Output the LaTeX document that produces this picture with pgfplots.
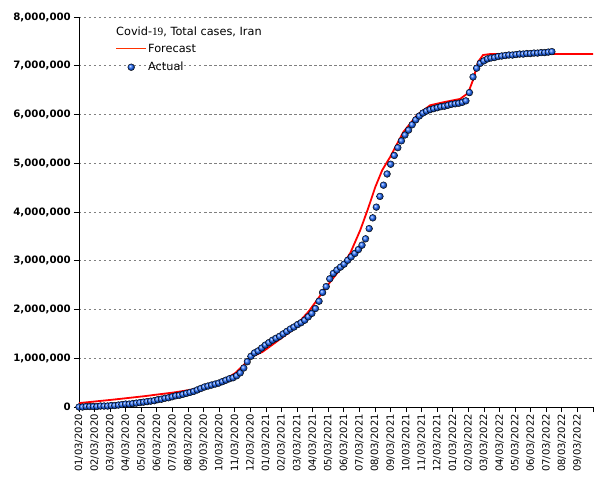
\documentclass[border=0pt]{standalone}
\usepackage{fontspec}
\setmainfont{DejaVu Sans}
\newfontfamily\serifnum{Liberation Serif}
\usepackage{pgfplots}
\pgfplotsset{compat=1.18}
\usepackage{pgfplotstable}

% x = months from 01/03/2020, y = millions of cases
\pgfplotstableread{
m cases
0 0.00
0.23 0.00
0.46 0.01
0.69 0.01
0.92 0.01
1.15 0.01
1.38 0.02
1.61 0.02
1.84 0.02
2.07 0.03
2.30 0.03
2.53 0.04
2.76 0.05
2.99 0.06
3.22 0.06
3.45 0.07
3.68 0.08
3.91 0.09
4.14 0.10
4.37 0.11
4.60 0.12
4.83 0.13
5.06 0.15
5.29 0.16
5.52 0.18
5.75 0.19
5.98 0.21
6.21 0.23
6.44 0.24
6.67 0.26
6.90 0.28
7.13 0.30
7.36 0.32
7.59 0.35
7.82 0.38
8.05 0.41
8.28 0.43
8.51 0.45
8.74 0.47
8.97 0.49
9.20 0.52
9.43 0.55
9.66 0.58
9.89 0.60
10.12 0.64
10.35 0.70
10.58 0.80
10.81 0.93
11.04 1.04
11.27 1.11
11.50 1.15
11.73 1.21
11.96 1.27
12.19 1.32
12.42 1.37
12.65 1.41
12.88 1.45
13.11 1.50
13.34 1.55
13.57 1.60
13.80 1.64
14.03 1.69
14.26 1.73
14.49 1.78
14.72 1.85
14.95 1.92
15.18 2.02
15.41 2.17
15.64 2.35
15.87 2.47
16.10 2.63
16.33 2.74
16.56 2.81
16.79 2.87
17.02 2.93
17.25 3.01
17.48 3.08
17.71 3.15
17.94 3.23
18.17 3.32
18.40 3.45
18.63 3.66
18.86 3.88
19.09 4.10
19.32 4.32
19.55 4.55
19.78 4.78
20.01 4.98
20.24 5.16
20.47 5.32
20.70 5.46
20.93 5.58
21.16 5.68
21.39 5.79
21.62 5.89
21.85 5.97
22.08 6.03
22.31 6.07
22.54 6.10
22.77 6.12
23.00 6.14
23.23 6.16
23.46 6.17
23.69 6.19
23.92 6.21
24.15 6.22
24.38 6.23
24.61 6.25
24.84 6.28
25.07 6.45
25.30 6.77
25.53 6.95
25.76 7.05
25.99 7.10
26.22 7.14
26.45 7.16
26.68 7.17
26.91 7.19
27.14 7.20
27.37 7.21
27.60 7.22
27.83 7.22
28.06 7.23
28.29 7.24
28.52 7.24
28.75 7.25
28.98 7.25
29.21 7.26
29.44 7.26
29.67 7.27
29.90 7.27
30.13 7.28
30.36 7.29
}\actual

\pgfplotstableread{
m cases
0 0.08
2.16 0.15
4.15 0.22
6.13 0.30
8.12 0.40
9.40 0.57
10.05 0.70
10.69 0.90
11.00 1.02
11.78 1.13
12.60 1.32
13.57 1.55
14.72 1.95
15.30 2.20
15.68 2.38
16.58 2.75
17.42 3.16
18.06 3.63
18.57 4.08
19.02 4.51
19.47 4.86
19.98 5.13
20.82 5.64
21.71 5.99
22.55 6.19
23.38 6.25
24.47 6.32
24.98 6.44
25.30 6.71
25.62 7.08
25.94 7.22
26.39 7.24
33.00 7.24
}\forecast

\definecolor{fcred}{RGB}{255,0,0}
\definecolor{fclegend}{RGB}{255,50,0}
\definecolor{dotblue}{RGB}{30,105,255}

\pgfplotsset{
  dotlegend/.style={legend image code/.code={\path[draw=none] (0bp,0bp) -- (30bp,0bp);
    \path[draw=none, ##1] plot coordinates {(15bp,0bp)};}},
  linelegend/.style={legend image code/.code={\path[draw=none] (0bp,0bp) -- (30bp,0bp);}},
}

\begin{document}
\begin{tikzpicture}
\begin{axis}[
  width=514bp, height=390bp, scale only axis,
  xmin=0, xmax=33, ymin=0, ymax=8,
  axis x line*=bottom, axis y line*=left,
  axis line style={black, line width=0.8bp},
  tick align=outside, major tick length=5bp,
  tick style={black, line width=0.8bp},
  xtick={0,...,33},
  xticklabels={01/03/2020,02/03/2020,03/03/2020,04/03/2020,05/03/2020,06/03/2020,07/03/2020,08/03/2020,09/03/2020,10/03/2020,11/03/2020,12/03/2020,01/03/2021,02/03/2021,03/03/2021,04/03/2021,05/03/2021,06/03/2021,07/03/2021,08/03/2021,09/03/2021,10/03/2021,11/03/2021,12/03/2021,01/03/2022,02/03/2022,03/03/2022,04/03/2022,05/03/2022,06/03/2022,07/03/2022,08/03/2022,09/03/2022,{}},
  xticklabel style={rotate=90, anchor=east, inner sep=2bp, font=\fontsize{10bp}{12bp}\selectfont},
  ytick={0,...,8},
  yticklabels={0,{1,000,000},{2,000,000},{3,000,000},{4,000,000},{5,000,000},{6,000,000},{7,000,000},{8,000,000}},
  yticklabel style={inner sep=3bp, font=\fontsize{10.2bp}{12bp}\selectfont\bfseries},
  ymajorgrids,
  grid style={gray, line width=0.6bp, dash pattern=on 2.5bp off 2.5bp},
  clip=false,
  reverse legend,
  legend cell align=left,
  legend style={draw=none, fill=none, at={(rel axis cs:0.072,0.932)}, anchor=north west,
    font=\fontsize{11.3bp}{13bp}\selectfont, inner sep=0pt, row sep=7bp, column sep=2bp,
    nodes={inner sep=0bp, text height=8.5bp, text depth=2.5bp}},
]
\coordinate (sw) at (rel axis cs:0,0);
\addplot[only marks, mark=ball, mark size=3.4bp, ball color=dotblue,
  mark options={ball color=dotblue, draw=none}, dotlegend]
  table[x=m, y=cases] {\actual};
\addlegendentry{Actual}
\addplot[fcred, line width=1.8bp, no markers, linelegend]
  table[x=m, y=cases] {\forecast};
\addlegendentry{Forecast}
% legend sample for the forecast line
\draw[fclegend, line width=0.9bp] (rel axis cs:0.072,0.9205) -- (rel axis cs:0.1304,0.9205);
\node[anchor=west, inner sep=0pt, font=\fontsize{11.3bp}{13bp}\selectfont]
  at (rel axis cs:0.072,0.9615) {Covid-{\serifnum 19}, Total cases, Iran};
\end{axis}
\pgfresetboundingbox
\path[use as bounding box] ([xshift=-79bp,yshift=-73bp]sw) rectangle ++(605bp,480bp);
\end{tikzpicture}
\end{document}
